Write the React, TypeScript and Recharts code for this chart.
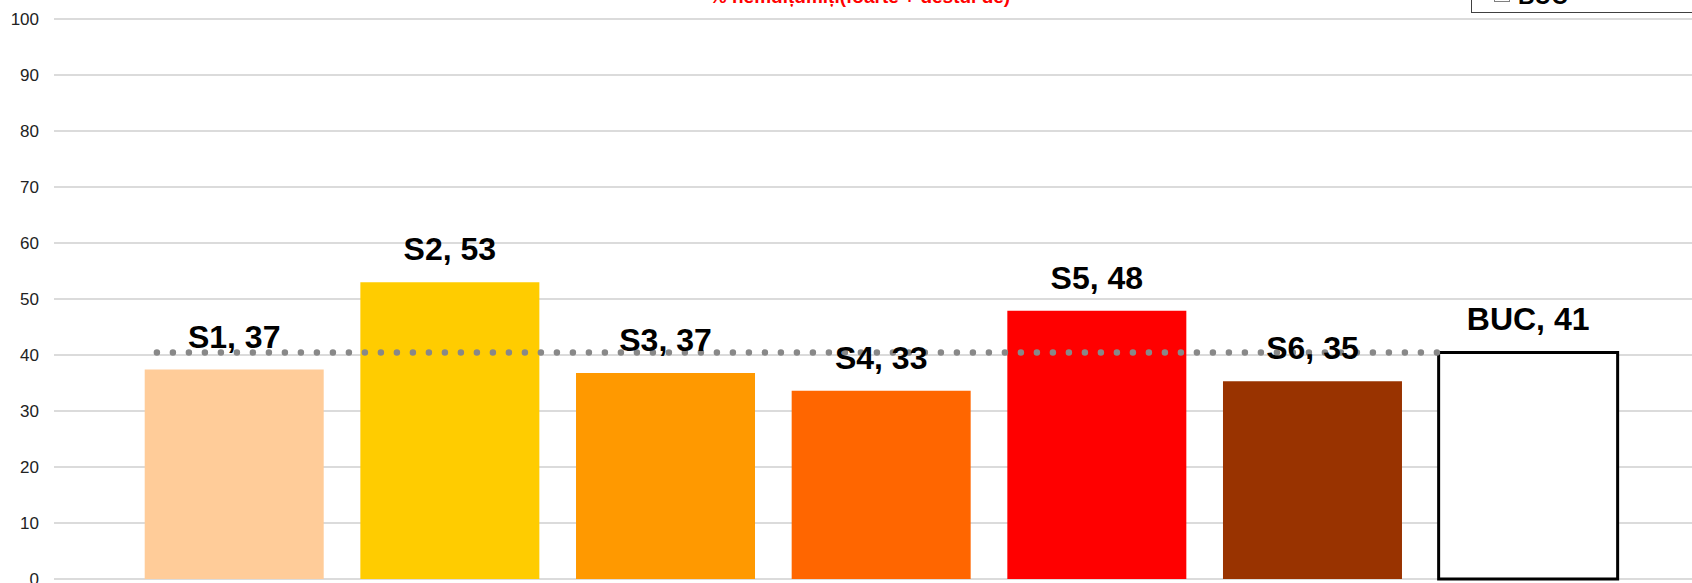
import React from 'react';
import { ComposedChart, Bar, Line, Cell, XAxis, YAxis, CartesianGrid, LabelList, Legend } from 'recharts';

const categories = ['S1', 'S2', 'S3', 'S4', 'S5', 'S6', 'BUC'];
const values = [37.4, 53.0, 36.8, 33.6, 47.9, 35.3, 40.45];
const labelValues = [37, 53, 37, 33, 48, 35, 41];
const COLORS = ['#FFCC99', '#FFCC00', '#FF9900', '#FF6600', '#FF0000', '#993300', '#FFFFFF'];
const yTicks = [0, 10, 20, 30, 40, 50, 60, 70, 80, 90, 100];

// Bucharest average drawn as a dotted line (x in category units)
const avgValue = 40.45;
const avgLine = [
  { x: -0.36, y: avgValue },
  { x: 5.58, y: avgValue },
];

const TITLE = '% nemulțumiți(foarte + destul de)';

const data = categories.map((name, i) => ({
  name,
  value: values[i],
  label: `${name}, ${labelValues[i]}`,
}));

const FONT = '"Liberation Sans", Arial, sans-serif';
const SHIFT = 40; // chart is cropped at top
const PAD = 72.7;
const BAND = 215.66;
const numDomain = [-0.5 - PAD / BAND, categories.length - 0.5 + PAD / BAND];

const LegendBox = () => (
  <svg width={300} height={44} style={{ display: 'block' }}>
    <rect x={0.5} y={0.5} width={299} height={42} fill="#fff" stroke="#404040" strokeWidth={1} />
    <rect x={23.5} y={16.5} width={15} height={15} fill="#fff" stroke="#808080" strokeWidth={1} />
    <text x={47} y={34} fontFamily={FONT} fontWeight="bold" fontSize={23} fill="#000">
      {categories[categories.length - 1]}
    </text>
  </svg>
);

export default function App() {
  return (
    <div style={{ position: 'absolute', left: 0, top: 0, width: 1692, height: 583, overflow: 'hidden', background: '#fff' }}>
      <div style={{ position: 'absolute', left: 0, top: -SHIFT }}>
        <ComposedChart width={1760} height={680} data={data} margin={{ top: 59, right: 51, bottom: 61, left: 0 }}>
          <CartesianGrid vertical={false} stroke="#cfcfcf" strokeWidth={1.5} />
          <XAxis dataKey="name" hide padding={{ left: PAD, right: PAD }} />
          <XAxis xAxisId="avg" type="number" dataKey="x" domain={numDomain} allowDataOverflow hide />
          <YAxis
            domain={[0, 100]}
            ticks={yTicks}
            width={54}
            axisLine={false}
            tickLine={false}
            tickSize={0}
            tickMargin={15}
            tick={{ fontSize: 17, fill: '#222', fontFamily: FONT }}
          />
          <Legend
            layout="horizontal"
            verticalAlign="middle"
            align="center"
            content={() => <LegendBox />}
            wrapperStyle={{ top: 10, left: 1471, width: 300, height: 44 }}
          />
          <Bar dataKey="value" barSize={179} isAnimationActive={false}>
            {data.map((d, i) => (
              <Cell
                key={d.name}
                fill={COLORS[i]}
                stroke={d.name === 'BUC' ? '#000' : 'none'}
                strokeWidth={d.name === 'BUC' ? 3 : 0}
              />
            ))}
            <LabelList
              dataKey="label"
              position="top"
              offset={22}
              style={{ fontSize: 32, fontWeight: 'bold', fill: '#000', fontFamily: FONT }}
            />
          </Bar>
          <Line
            xAxisId="avg"
            data={avgLine}
            dataKey="y"
            stroke="#888"
            strokeWidth={6.5}
            strokeDasharray="0 16"
            strokeLinecap="round"
            dot={false}
            activeDot={false}
            isAnimationActive={false}
          />
        </ComposedChart>
      </div>
      <svg width={1692} height={20} style={{ position: 'absolute', left: 0, top: 0 }}>
        <text x={860} y={3} textAnchor="middle" fontFamily={FONT} fontWeight="bold" fontSize={19} fill="#FF0000">
          {TITLE}
        </text>
      </svg>
    </div>
  );
}
